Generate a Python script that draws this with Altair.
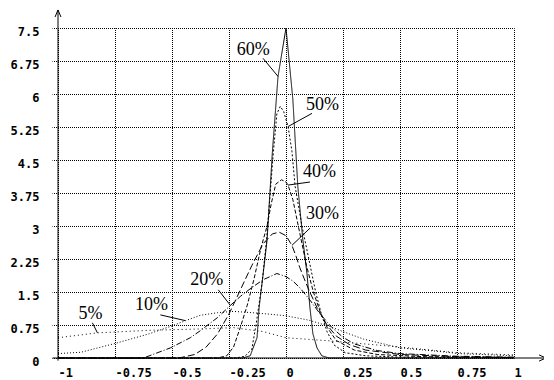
import altair as alt
import pandas as pd

# ---------------- data ----------------
x_ticks = [-1, -0.75, -0.5, -0.25, 0, 0.25, 0.5, 0.75, 1]
y_ticks = [0, 0.75, 1.5, 2.25, 3, 3.75, 4.5, 5.25, 6, 6.75, 7.5]

series = ["5%", "10%", "20%", "30%", "40%", "50%", "60%"]

x_5 = [-1, -0.83, -0.6, -0.375, -0.23, -0.1, 0, 0.19, 0.3, 0.5, 0.75, 1]
y_5 = [0.46, 0.57, 0.63, 0.66, 0.69, 0.6, 0.46, 0.39, 0.34, 0.25, 0.12, 0.07]

x_10 = [-1, -0.9, -0.75, -0.6, -0.5, -0.44, -0.376, -0.3, -0.23, -0.15, -0.08, 0,
        0.1, 0.19, 0.25, 0.34, 0.5, 0.67, 0.76, 1]
y_10 = [0.1, 0.13, 0.33, 0.55, 0.73, 0.85, 0.97, 1.03, 1.06, 1.03, 1.0, 0.96,
        0.86, 0.72, 0.6, 0.43, 0.23, 0.15, 0.1, 0.05]

x_20 = [-1, -0.625, -0.507, -0.42, -0.376, -0.3, -0.245, -0.2, -0.15, -0.1, -0.04, 0,
        0.03, 0.06, 0.1, 0.15, 0.2, 0.25, 0.3, 0.4, 0.5, 0.75, 1]
y_20 = [0, 0, 0.23, 0.46, 0.62, 0.92, 1.19, 1.4, 1.6, 1.78, 1.92, 1.85,
        1.75, 1.6, 1.35, 1.0, 0.7, 0.47, 0.32, 0.17, 0.1, 0.04, 0.02]

x_30 = [-1, -0.47, -0.4, -0.35, -0.3, -0.25, -0.2, -0.15, -0.1, -0.06, -0.03, 0,
        0.026, 0.045, 0.06, 0.08, 0.1, 0.14, 0.18, 0.22, 0.28, 0.35, 0.5, 0.75, 1]
y_30 = [0, 0, 0.08, 0.25, 0.55, 1.0, 1.55, 2.1, 2.6, 2.82, 2.86, 2.78,
        2.56, 2.3, 2.06, 1.8, 1.55, 1.1, 0.75, 0.5, 0.3, 0.18, 0.08, 0.03, 0.01]

x_40 = [-1, -0.3, -0.26, -0.23, -0.2, -0.17, -0.14, -0.11, -0.083, -0.065, -0.045, -0.02, 0,
        0.009, 0.03, 0.05, 0.07, 0.09, 0.12, 0.15, 0.18, 0.22, 0.3, 0.4, 0.6, 1]
y_40 = [0, 0, 0.05, 0.25, 0.7, 1.2, 1.8, 2.5, 3.0, 3.5, 3.95, 4.05, 4.0,
        3.93, 3.6, 3.1, 2.6, 2.1, 1.5, 1.05, 0.7, 0.4, 0.18, 0.08, 0.03, 0.01]

x_50 = [-1, -0.22, -0.18, -0.15, -0.13, -0.105, -0.085, -0.07, -0.055, -0.04, -0.025, -0.01,
        0.009, 0.026, 0.04, 0.07, 0.09, 0.11, 0.13, 0.155, 0.18, 0.21, 0.26, 0.35, 0.5, 1]
y_50 = [0, 0, 0.04, 0.2, 0.8, 1.7, 2.7, 3.7, 4.7, 5.55, 5.72, 5.6,
        5.26, 4.7, 3.9, 3.0, 2.5, 2.0, 1.5, 1.0, 0.6, 0.3, 0.12, 0.05, 0.02, 0]

x_60 = [-1, -0.19, -0.157, -0.144, -0.127, -0.118, -0.10, -0.083, -0.07, -0.06, -0.035, 0,
        0.03, 0.052, 0.074, 0.092, 0.105, 0.118, 0.136, 0.157, 0.19, 1]
y_60 = [0, 0, 0.05, 0.23, 0.46, 1.14, 1.92, 2.68, 3.8, 4.66, 6.4, 7.5,
        5.88, 3.89, 2.68, 1.92, 1.14, 0.55, 0.23, 0.05, 0, 0]

label_text = ["60%", "50%", "40%", "30%", "20%", "10%", "5%"]
label_x = [-0.144, 0.16, 0.147, 0.16, -0.348, -0.59, -0.857]
label_y = [6.99, 5.75, 4.22, 3.27, 1.78, 1.2, 0.99]

lead_x1 = [-0.1006, 0.114, 0.105, 0.105, -0.297, -0.551, -0.849]
lead_y1 = [6.81, 5.56, 4.0, 2.95, 1.55, 0.98, 0.80]
lead_x2 = [-0.035, 0.009, 0.009, 0.026, -0.249, -0.442, -0.827]
lead_y2 = [6.40, 5.26, 3.93, 2.56, 1.23, 0.85, 0.57]

# axis lines with open arrow heads (data units)
seg_x1 = [-1.024, -1, -1.013, -0.987, 1.11, 1.11]
seg_y1 = [0, -0.06, 7.75, 7.75, 0.07, -0.07]
seg_x2 = [1.14, -1, -1, -1, 1.14, 1.14]
seg_y2 = [0, 7.91, 7.91, 7.91, 0, 0]

# ---------------- build tables ----------------
curves_x = [x_5, x_10, x_20, x_30, x_40, x_50, x_60]
curves_y = [y_5, y_10, y_20, y_30, y_40, y_50, y_60]
rows = []
for name, xs, ys in zip(series, curves_x, curves_y):
    for i, (a, b) in enumerate(zip(xs, ys)):
        rows.append({"series": name, "x": a, "y": b, "i": i})
df = pd.DataFrame(rows)

labels_df = pd.DataFrame({"t": label_text, "x": label_x, "y": label_y})
leads_df = pd.DataFrame({"x": lead_x1, "y": lead_y1, "x2": lead_x2, "y2": lead_y2})
segs_df = pd.DataFrame({"x": seg_x1, "y": seg_y1, "x2": seg_x2, "y2": seg_y2})

dashes = [[1, 3], [1, 2], [6, 2, 1, 2], [7, 3], [4, 2], [2, 2], [1, 0]]

xscale = alt.Scale(domain=[-1, 1], nice=False, zero=False)
yscale = alt.Scale(domain=[0, 7.5], nice=False, zero=False)

xaxis = alt.Axis(values=x_ticks, labelExpr="datum.value + ''", ticks=False, tickSize=0,
                 labelPadding=14, labelAlign="left", labelBaseline="middle",
                 labelFlush=False, labelOverlap=False, title=None, domain=False,
                 grid=True, gridColor="black", gridDash=[1, 1], gridDashOffset=0.5,
                 gridOpacity=1)
yaxis = alt.Axis(values=y_ticks, labelExpr="datum.value + ''", ticks=True, tickSize=6,
                 tickDash=[1, 1], tickDashOffset=0.5, tickColor="black", labelPadding=13,
                 labelAlign="right", labelBaseline="middle", labelOffset=3,
                 labelOverlap=False, title=None, domain=False, grid=True,
                 gridColor="black", gridDash=[1, 1], gridDashOffset=0.5, gridOpacity=1)

X = alt.X("x:Q", scale=xscale, axis=xaxis)
Y = alt.Y("y:Q", scale=yscale, axis=yaxis)

curves = alt.Chart(df).mark_line(strokeWidth=1, color="black").encode(
    x=X, y=Y,
    detail="series:N",
    order="i:Q",
    strokeDash=alt.StrokeDash("series:N", scale=alt.Scale(domain=series, range=dashes), legend=None),
)

axes = alt.Chart(segs_df).mark_rule(color="black", strokeWidth=1).encode(
    x=X, y=Y, x2="x2:Q", y2="y2:Q",
)

leads = alt.Chart(leads_df).mark_rule(color="black", strokeWidth=1).encode(
    x=X, y=Y, x2="x2:Q", y2="y2:Q",
)

texts = alt.Chart(labels_df).mark_text(font="Liberation Serif", fontSize=18, color="black",
                                       align="center", baseline="middle").encode(
    x=X, y=Y, text="t:N",
)

chart = alt.layer(curves, axes, leads, texts).properties(
    width=456, height=330,
    padding={"left": 50, "top": 20, "right": 30, "bottom": 22},
    autosize=alt.AutoSizeParams(type="none"),
    background="white",
).configure_view(strokeWidth=0).configure_axis(
    gridWidth=1, labelFont="DejaVu Sans Mono", labelFontWeight="bold",
    labelFontSize=12, labelColor="black",
)

chart.save("out.html", embed_options={"renderer": "svg", "actions": False})
